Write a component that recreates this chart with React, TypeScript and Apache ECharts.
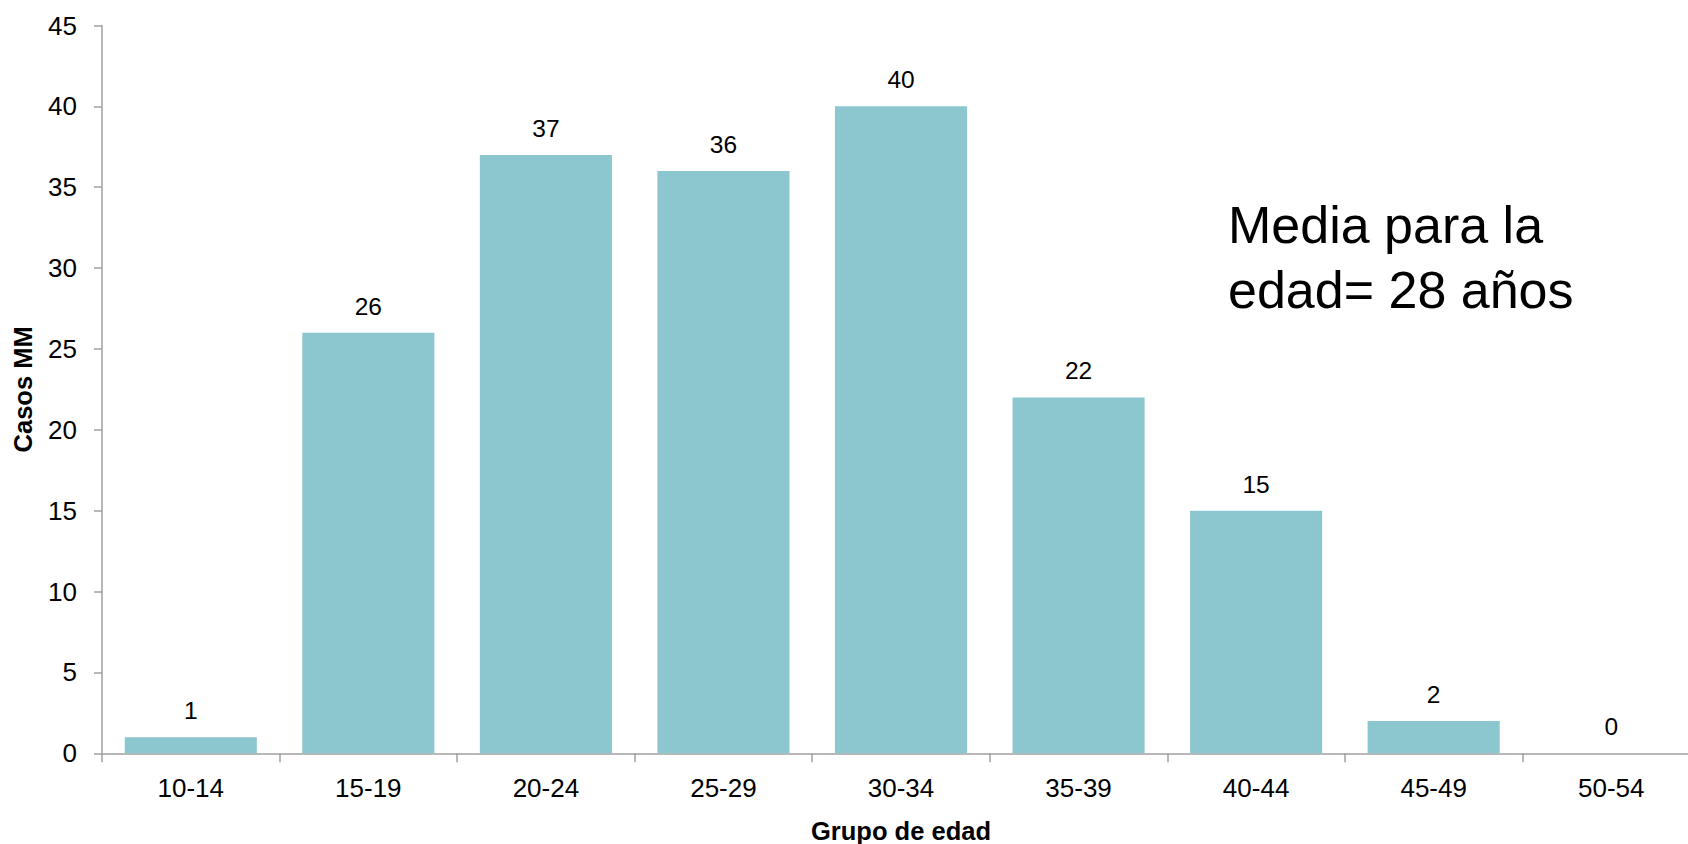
import React, { useEffect, useRef } from "react";
import * as echarts from "echarts";

const categories = ["10-14", "15-19", "20-24", "25-29", "30-34", "35-39", "40-44", "45-49", "50-54"];
const casos = [1, 26, 37, 36, 40, 22, 15, 2, 0];
const annotationLines = ["Media para la", "edad= 28 años"];

const FONT = "'Liberation Sans', Arial, sans-serif";

export default function App() {
  const ref = useRef<HTMLDivElement>(null);
  useEffect(() => {
    if (!ref.current) return;
    const chart = echarts.init(ref.current, null, { renderer: "svg" });
    chart.setOption({
      animation: false,
      backgroundColor: "#ffffff",
      textStyle: { fontFamily: FONT },
      grid: {
        left: 102,
        top: 25.5,
        bottom: 90.7,
        width: 1598,
        containLabel: false,
        outerBoundsMode: "none",
      },
      xAxis: {
        type: "category",
        data: categories,
        boundaryGap: true,
        name: "Grupo de edad",
        nameLocation: "middle",
        nameGap: 65,
        nameTextStyle: { fontFamily: FONT, fontSize: 25.5, fontWeight: "bold", color: "#000" },
        axisLine: { lineStyle: { color: "#a0a0a0", width: 1.5 } },
        axisTick: { show: true, alignWithLabel: false, length: 9, lineStyle: { color: "#a0a0a0", width: 1.5 } },
        axisLabel: { fontFamily: FONT, fontSize: 26, color: "#000", margin: 22, interval: 0 },
        splitLine: { show: false },
      },
      yAxis: {
        type: "value",
        min: 0,
        max: 45,
        interval: 5,
        name: "Casos MM",
        nameLocation: "middle",
        nameRotate: 90,
        nameGap: 66,
        nameTextStyle: { fontFamily: FONT, fontSize: 25.5, fontWeight: "bold", color: "#000" },
        axisLine: { show: true, lineStyle: { color: "#a0a0a0", width: 1.5 } },
        axisTick: { show: true, length: 8, lineStyle: { color: "#a0a0a0", width: 1.5 } },
        axisLabel: { fontFamily: FONT, fontSize: 26, color: "#000", margin: 25 },
        splitLine: { show: false },
      },
      series: [
        {
          type: "bar",
          data: casos,
          barWidth: "74.4%",
          itemStyle: { color: "#8CC6CE" },
          label: {
            show: true,
            position: "top",
            distance: 14,
            fontFamily: FONT,
            fontSize: 24.5,
            color: "#000",
          },
        },
      ],
      graphic: [
        {
          type: "text",
          left: 1228,
          top: 192,
          style: {
            text: annotationLines.join("\n"),
            fontFamily: FONT,
            fontSize: 52,
            lineHeight: 65,
            fill: "#000",
          },
        },
      ],
    });
    return () => chart.dispose();
  }, []);
  return (
    <div
      ref={ref}
      style={{ width: 1688, height: 844, position: "absolute", left: 0, top: 0, overflow: "hidden" }}
    />
  );
}
